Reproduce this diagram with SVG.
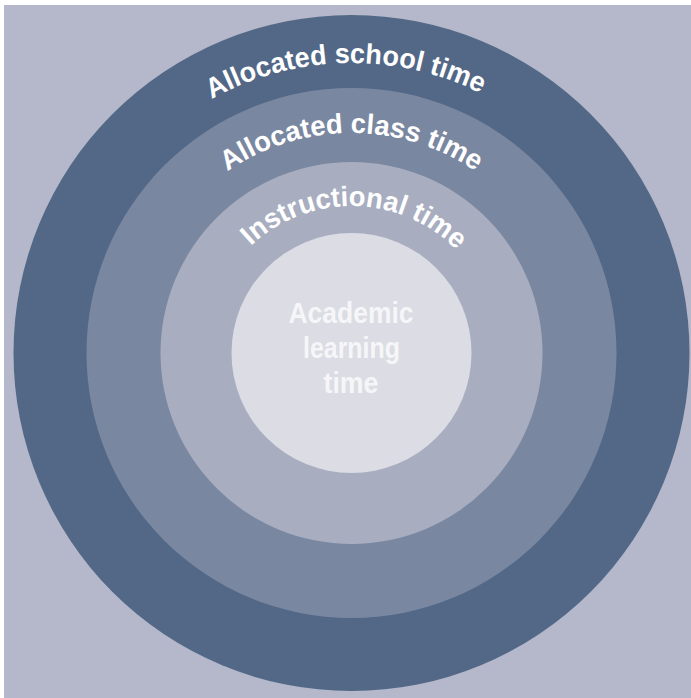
<svg xmlns="http://www.w3.org/2000/svg" width="691" height="698" viewBox="0 0 691 698">
<style>
.arc{font-family:"Liberation Sans",Arial,sans-serif;font-weight:bold;font-size:28px;fill:#ffffff;}
.ctr{font-family:"Liberation Sans",Arial,sans-serif;font-weight:bold;font-size:30px;fill:#f6f6f8;text-anchor:middle;}
</style>
<defs>
<path id="p1" d="M 100.4 498 A 290 290 0 0 1 351.5 63 A 290 290 0 0 1 602.6 498"/>
<path id="p2" d="M 161 463 A 220 220 0 0 1 351.5 133 A 220 220 0 0 1 542 463"/>
<path id="p3" d="M 224.2 426.5 A 147 147 0 0 1 351.5 206 A 147 147 0 0 1 478.8 426.5"/>
</defs>
<rect x="0" y="0" width="691" height="698" fill="#ffffff"/>
<rect x="4" y="5" width="687" height="693" fill="#b4b8ca"/>
<g id="ring-school">
<circle cx="351.5" cy="353" r="338" fill="#526886"/>
<text class="arc"><textPath href="#p1" startOffset="49.5%" text-anchor="middle" textLength="280" lengthAdjust="spacingAndGlyphs">Allocated school time</textPath></text>
</g>
<g id="ring-class">
<circle cx="351.5" cy="353" r="265" fill="#7a87a1"/>
<text class="arc"><textPath href="#p2" startOffset="50%" text-anchor="middle" textLength="264" lengthAdjust="spacingAndGlyphs">Allocated class time</textPath></text>
</g>
<g id="ring-instructional">
<circle cx="351.5" cy="353" r="191" fill="#a8aec0"/>
<text class="arc"><textPath href="#p3" startOffset="50.5%" text-anchor="middle" textLength="228" lengthAdjust="spacingAndGlyphs">Instructional time</textPath></text>
</g>
<g id="academic">
<circle cx="351.5" cy="353" r="120" fill="#dbdce4"/>
<text class="ctr" x="351" y="323" textLength="125" lengthAdjust="spacingAndGlyphs">Academic</text>
<text class="ctr" x="351.5" y="358" textLength="97" lengthAdjust="spacingAndGlyphs">learning</text>
<text class="ctr" x="351" y="393" textLength="55" lengthAdjust="spacingAndGlyphs">time</text>
</g>
<g id="connectors"/>
</svg>
